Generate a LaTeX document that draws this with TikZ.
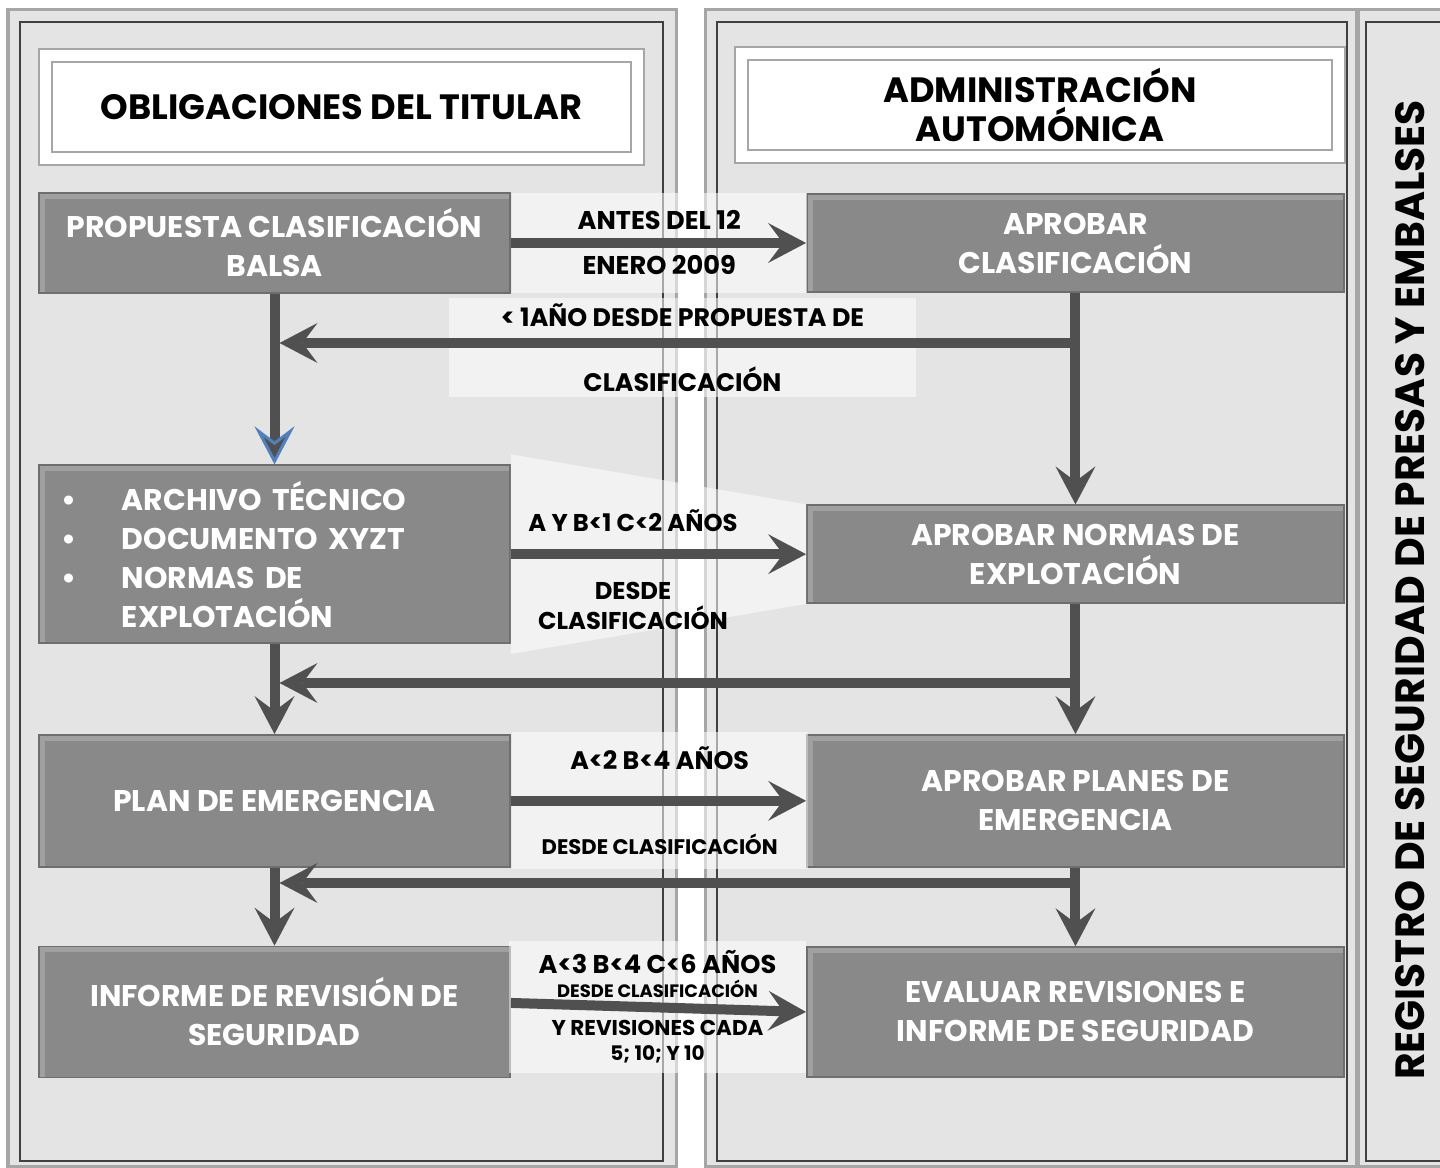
\documentclass[tikz,border=0pt]{standalone}
\usepackage{fontspec}
\setmainfont{Poppins}
\usetikzlibrary{arrows.meta, positioning}

\definecolor{panelgray}{HTML}{E4E4E4}
\definecolor{framegray}{HTML}{A6A6A6}
\definecolor{framedark}{HTML}{404040}
\definecolor{boxgray}{HTML}{898989}
\definecolor{boxedge}{HTML}{6E6E6E}
\definecolor{arrowgray}{HTML}{505050}
\definecolor{arrowblue}{HTML}{4F81BD}

\newcommand{\bul}{\makebox[0.6cm][l]{•}}

\begin{document}
\begin{tikzpicture}[
  x=0.01cm, y=-0.01cm,
  panel/.style={fill=panelgray, draw=framegray, line width=0.03cm},
  frame/.style={draw=framedark, line width=0.025cm},
  head/.style={fill=white, draw=framegray, line width=0.02cm, double=white, double distance=0.11cm, align=center, inner sep=0pt, font=\bfseries\fontsize{10}{11.1}\selectfont},
  box/.style={fill=boxgray, draw=boxedge, line width=0.015cm, text=white, align=center, inner sep=0pt, font=\bfseries\fontsize{8.5}{11.1}\selectfont,
    path picture={\draw[white, opacity=0.2, line width=0.12cm] (path picture bounding box.south west) -- (path picture bounding box.north west) -- (path picture bounding box.north east);}},
  lbl/.style={fill=white, fill opacity=0.55, text opacity=1, align=center, inner sep=0pt},
  arrow/.style={draw=arrowgray, line width=0.1cm, -{Stealth[length=0.38cm, width=0.4cm, inset=0.15cm, line width'=0pt]}},
  arrowblue/.style={arrow, -{Stealth[length=0.38cm, width=0.4cm, inset=0.15cm, fill=arrowgray, color=arrowblue, line width'=0.03cm]}}
]
\useasboundingbox (0,0) rectangle (1440,1168);

% columns
\draw[panel] (8,10) rectangle (676,1166);
\draw[frame] (20,22) rectangle (663,1161);
\draw[panel] (705,10) rectangle (1356,1166);
\draw[frame] (717,22) rectangle (1347,1161);
\draw[panel] (1358,10) rectangle (1460,1166);
\draw[frame] (1366,22) rectangle (1455,1161);

% headers
\node[head, minimum width=5.91cm, minimum height=1.03cm] (titular) at (341.5,107) {OBLIGACIONES DEL TITULAR};
\node[head, minimum width=5.96cm, minimum height=1.02cm] (admin) at (1040,105) {ADMINISTRACIÓN\\AUTOMÓNICA};
\node[rotate=90, font=\bfseries\fontsize{11.6}{14}\selectfont] (registro) at (1410,590) {REGISTRO DE SEGURIDAD DE PRESAS Y EMBALSES};

% left column
\node[box, minimum width=4.71cm, minimum height=1cm] (propuesta) at (274.5,243) {PROPUESTA CLASIFICACIÓN\\BALSA};
\node[box, minimum width=4.71cm, minimum height=1.78cm, below=1.705cm of propuesta, align=left, inner xsep=0.23cm, text width=4.25cm] (archivo) {\bul ARCHIVO TÉCNICO\\\bul DOCUMENTO XYZT\\\bul NORMAS DE\\\hspace*{0.6cm}EXPLOTACIÓN};
\node[box, minimum width=4.71cm, minimum height=1.32cm, below=0.9cm of archivo] (plan) {PLAN DE EMERGENCIA};
\node[box, minimum width=4.71cm, minimum height=1.31cm, below=0.78cm of plan] (informe) {INFORME DE REVISIÓN DE\\SEGURIDAD};

% right column
\node[box, minimum width=5.37cm, minimum height=0.98cm, right=2.95cm of propuesta] (aprobar) {APROBAR\\CLASIFICACIÓN};
\node[box, minimum width=5.37cm, minimum height=0.98cm, right=2.95cm of archivo] (normas) {APROBAR NORMAS DE\\EXPLOTACIÓN};
\node[box, minimum width=5.37cm, minimum height=1.32cm, right=2.95cm of plan] (planes) {APROBAR PLANES DE\\EMERGENCIA};
\node[box, minimum width=5.37cm, minimum height=1.3cm, right=2.95cm of informe] (evaluar) {EVALUAR REVISIONES E\\INFORME DE SEGURIDAD};

% plazos
\node[lbl, minimum width=2.95cm, minimum height=1cm, right=0cm of propuesta, font=\bfseries\fontsize{7.3}{12.8}\selectfont] (antes) {ANTES DEL 12\\ENERO 2009};
\node[lbl, minimum width=4.67cm, minimum height=0.99cm, font=\bfseries\fontsize{7.2}{18.5}\selectfont] (unano) at (682.5,347.5) {< 1AÑO DESDE PROPUESTA DE\\CLASIFICACIÓN};
\fill[white, fill opacity=0.55] ([yshift=0.1cm]archivo.north east) -- (normas.north west) -- (normas.south west) -- ([yshift=-0.1cm]archivo.south east) -- cycle;
\node[lbl, fill=none, font=\bfseries\fontsize{6.9}{8.5}\selectfont] (ayb) at (633,570) {A Y B<1 C<2 AÑOS\\[10.8pt]DESDE\\CLASIFICACIÓN};
\node[lbl, minimum width=2.96cm, minimum height=1.37cm, right=0cm of plan, font=\bfseries\fontsize{7.2}{24.2}\selectfont] (adosb) {A<2 B<4 AÑOS\\{\fontsize{6}{7}\selectfont DESDE CLASIFICACIÓN}};
\node[lbl, minimum width=2.96cm, minimum height=1.32cm, font=\bfseries\fontsize{6}{6.8}\selectfont] (atresb) at (657.5,1007) {{\fontsize{7.3}{6.8}\selectfont A<3 B<4 C<6 AÑOS}\\{\fontsize{5.1}{6.8}\selectfont DESDE CLASIFICACIÓN}\\[4pt]{\fontsize{6.1}{6.8}\selectfont Y REVISIONES CADA}\\[0.3pt]{\fontsize{5.7}{6.8}\selectfont 5; 10; Y 10}};

% flechas
\draw[arrow] (propuesta) -- (aprobar);
\draw[arrowblue] (propuesta) -- (archivo);
\draw[arrow] (aprobar) -- (normas);
\draw[arrow, shorten >=0.05cm] (aprobar.south |- 0,343) -- (propuesta.south |- 0,343);

\draw[arrow] (archivo) -- (normas);
\draw[arrow] (archivo) -- (plan);
\draw[arrow] (normas) -- (planes);
\draw[arrow, shorten >=0.05cm] (normas.south |- 0,683) -- (archivo.south |- 0,683);

\draw[arrow] (plan) -- (planes);
\draw[arrow] (plan) -- (informe);
\draw[arrow] (planes) -- (evaluar);
\draw[arrow, shorten >=0.05cm] (planes.south |- 0,883) -- (plan.south |- 0,883);

\draw[arrow] ([yshift=0.09cm]informe.east) -- (evaluar.west);

\end{tikzpicture}
\end{document}
